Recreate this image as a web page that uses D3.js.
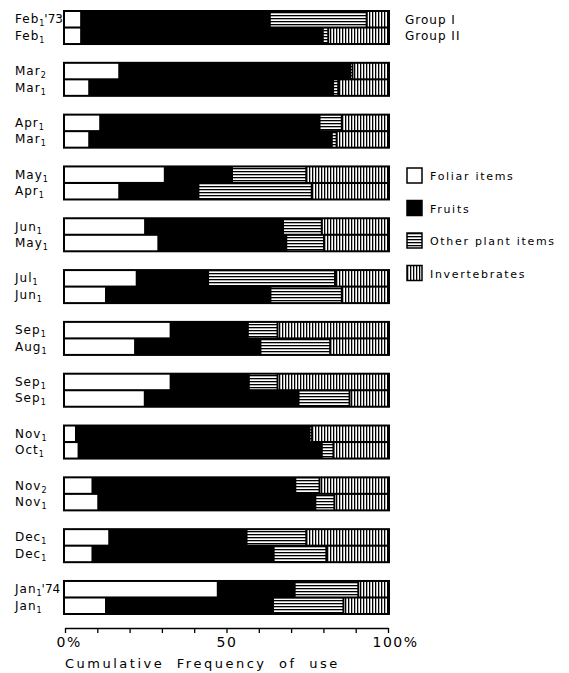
<!DOCTYPE html>
<html>
<head>
<meta charset="utf-8">
<script src="https://cdn.jsdelivr.net/npm/d3@7"></script>
<style>
  body { margin: 0; background: #fff; }
  text { font-family: "DejaVu Sans", sans-serif; fill: #000; }
</style>
</head>
<body>
<div id="chart-container"></div>
<script>
// category keys and legend labels
const keys = ["foliar", "fruits", "other", "invert"];
const legendLabels = ["Foliar items", "Fruits", "Other plant items", "Invertebrates"];

// row labels (top bar = Group I, bottom bar = Group II)
const topMonths = ["Feb", "Mar", "Apr", "May", "Jun", "Jul", "Sep", "Sep", "Nov", "Nov", "Dec", "Jan"];
const topSubs = ["1", "2", "1", "1", "1", "1", "1", "1", "1", "2", "1", "1"];
const topYears = ["'73", "", "", "", "", "", "", "", "", "", "", "'74"];
const bottomMonths = ["Feb", "Mar", "Mar", "Apr", "May", "Jun", "Aug", "Sep", "Oct", "Nov", "Dec", "Jan"];
const bottomSubs = ["1", "1", "1", "1", "1", "1", "1", "1", "1", "1", "1", "1"];

// percentage of use, Group I
const foliarI = [5.0, 16.8, 10.9, 30.9, 24.8, 22.2, 32.7, 32.7, 3.4, 8.5, 13.7, 47.3];
const fruitsI = [58.4, 71.5, 67.9, 20.8, 42.7, 22.1, 23.9, 24.2, 72.3, 62.8, 42.5, 23.8];
const otherI  = [30.0, 0.7, 6.9, 23.0, 12.0, 39.3, 9.2, 8.9, 0.7, 7.5, 18.5, 19.7];
const invertI = [6.6, 11.0, 14.3, 25.3, 20.5, 16.4, 34.2, 34.2, 23.6, 21.2, 25.3, 9.2];

// percentage of use, Group II
const foliarII = [5.0, 7.5, 7.5, 16.8, 28.9, 12.7, 21.7, 24.7, 4.2, 10.3, 8.5, 12.7];
const fruitsII = [74.8, 75.5, 75.1, 24.5, 39.6, 50.9, 38.8, 47.6, 75.3, 67.2, 56.1, 51.7];
const otherII  = [1.7, 1.6, 1.5, 35.1, 11.7, 22.1, 21.6, 15.8, 3.6, 5.9, 16.3, 21.8];
const invertII = [18.5, 15.4, 15.9, 23.6, 19.8, 14.3, 17.9, 11.9, 16.9, 16.6, 19.1, 13.8];

const xTicks = [0, 10, 20, 30, 40, 50, 60, 70, 80, 90, 100];
const xTickLabels = { 0: "0%", 50: "50", 100: "100%" };

// build rows for the stack
const rows = [];
topMonths.forEach(function (m, i) {
    rows.push({ group: i, row: 0, foliar: foliarI[i], fruits: fruitsI[i], other: otherI[i], invert: invertI[i] });
    rows.push({ group: i, row: 1, foliar: foliarII[i], fruits: fruitsII[i], other: otherII[i], invert: invertII[i] });
});

const width = 569, height = 673;

const svg = d3.select("#chart-container")
    .append("svg")
    .attr("width", width)
    .attr("height", height);

// hatch patterns
const defs = svg.append("defs");
const hp = defs.append("pattern").attr("id", "hpat")
    .attr("patternUnits", "userSpaceOnUse").attr("width", 6).attr("height", 3);
hp.append("rect").attr("width", 6).attr("height", 3).attr("fill", "#fff");
hp.append("rect").attr("width", 6).attr("height", 1.3).attr("fill", "#000");
const vp = defs.append("pattern").attr("id", "vpat")
    .attr("patternUnits", "userSpaceOnUse").attr("width", 3).attr("height", 6);
vp.append("rect").attr("width", 3).attr("height", 6).attr("fill", "#fff");
vp.append("rect").attr("width", 1.3).attr("height", 6).attr("fill", "#000");

const fills = { foliar: "#fff", fruits: "#000", other: "url(#hpat)", invert: "url(#vpat)" };

// scales
const x = d3.scaleLinear().domain([0, 100]).range([65, 388]);
const yGroup = d3.scaleBand().domain(d3.range(topMonths.length)).range([10, 615]).paddingInner(0.324).paddingOuter(0);
const yRow = d3.scaleBand().domain([0, 1]).range([2, yGroup.bandwidth() - 2]).paddingInner(0.125);

// group boxes (black frame)
svg.append("g").selectAll("rect")
    .data(d3.range(topMonths.length))
    .join("rect")
    .attr("x", x(0) - 2)
    .attr("y", d => yGroup(d))
    .attr("width", x(100) - x(0) + 4)
    .attr("height", yGroup.bandwidth())
    .attr("fill", "#000");

// stacked segments
const series = d3.stack().keys(keys)(rows);
series.forEach(function (s) {
    const k = s.key;
    svg.append("g").selectAll("rect")
        .data(s.filter(d => d[1] - d[0] > 0))
        .join("rect")
        .attr("x", d => k === "foliar" || k === "fruits" ? x(d[0]) : x(d[0]) + 1)
        .attr("y", d => yGroup(d.data.group) + yRow(d.data.row))
        .attr("width", d => {
            let w = x(d[1]) - x(d[0]);
            if (k === "foliar" || k === "other") w -= 1;
            if (k === "other" || k === "invert") w -= 1;
            return Math.max(w, 0.6);
        })
        .attr("height", yRow.bandwidth())
        .attr("fill", fills[k]);
});

// row labels
function addLabel(month, sub, year, yc) {
    const t = svg.append("text")
        .attr("x", 15)
        .attr("y", yc + 4)
        .attr("font-size", 12)
        .attr("letter-spacing", 1);
    t.append("tspan").text(month);
    t.append("tspan").attr("font-size", 8).attr("dy", 3).text(sub);
    if (year) t.append("tspan").attr("dy", -3).attr("dx", -1).attr("letter-spacing", 0).text(year);
}
topMonths.forEach(function (m, i) {
    addLabel(m, topSubs[i], topYears[i], yGroup(i) + yRow(0) + yRow.bandwidth() / 2);
    addLabel(bottomMonths[i], bottomSubs[i], "", yGroup(i) + yRow(1) + yRow.bandwidth() / 2);
});

// group names
svg.append("text").attr("x", 405).attr("y", 24).attr("font-size", 12).attr("letter-spacing", 1).text("Group I");
svg.append("text").attr("x", 405).attr("y", 40).attr("font-size", 12).attr("letter-spacing", 1).text("Group II");

// legend
const legend = svg.append("g").selectAll("g")
    .data(keys)
    .join("g")
    .attr("transform", (d, i) => `translate(407,${168 + i * 32.5})`);
legend.append("rect")
    .attr("width", 15).attr("height", 15)
    .attr("fill", d => fills[d])
    .attr("stroke", "#000").attr("stroke-width", 1.5);
legend.append("text")
    .attr("x", 23).attr("y", 12)
    .attr("font-size", 11).attr("letter-spacing", 1.7)
    .text((d, i) => legendLabels[i]);

// x axis
const axis = svg.append("g")
    .attr("transform", "translate(0,628)")
    .call(d3.axisBottom(x)
        .tickValues(xTicks)
        .tickSize(5)
        .tickSizeOuter(0)
        .tickFormat(d => xTickLabels[d] || ""));
axis.select(".domain").attr("stroke-width", 1.6);
axis.selectAll(".tick line").attr("stroke-width", 1.3);
axis.selectAll(".tick text")
    .attr("font-family", "DejaVu Sans")
    .attr("font-size", 14)
    .attr("letter-spacing", 1.5)
    .attr("y", 9)
    .attr("text-anchor", d => d === 50 ? "middle" : "start")
    .attr("dx", d => d === 0 ? -9 : d === 100 ? -16 : 0);

svg.append("text")
    .attr("x", 65).attr("y", 668)
    .attr("font-size", 13)
    .attr("letter-spacing", 2.5)
    .attr("word-spacing", 6)
    .text("Cumulative Frequency of use");
</script>
</body>
</html>
